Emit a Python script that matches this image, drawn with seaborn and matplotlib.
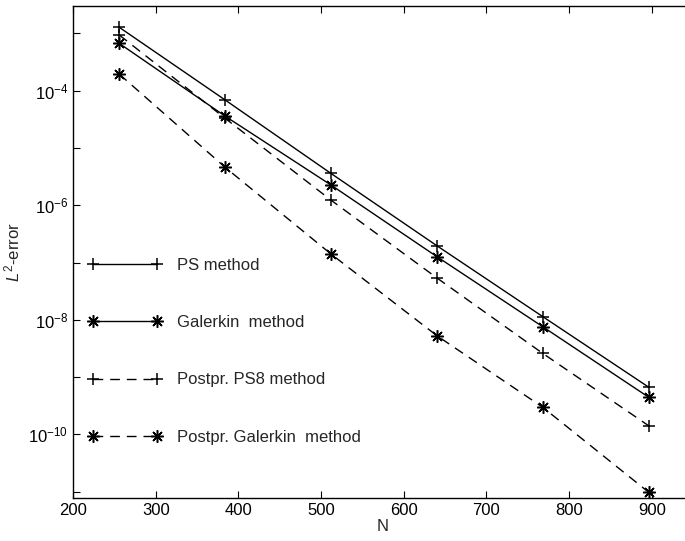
import matplotlib
matplotlib.use('Agg')
import matplotlib.pyplot as plt
import matplotlib.ticker as mticker
import numpy as np
import seaborn as sns

# data
N = [256, 384, 512, 640, 768, 896]
ps_err = [1.28e-3, 6.9e-5, 3.6e-6, 1.97e-7, 1.14e-8, 6.7e-10]
galerkin_err = [6.7e-4, 3.6e-5, 2.26e-6, 1.27e-7, 7.6e-9, 4.47e-10]
postpr_ps8_err = [9.4e-4, 3.3e-5, 1.23e-6, 5.4e-8, 2.6e-9, 1.42e-10]
postpr_galerkin_err = [1.95e-4, 4.6e-6, 1.41e-7, 5.3e-9, 2.98e-10, 9.8e-12]

labels = ['PS method', 'Galerkin  method', 'Postpr. PS8 method',
          'Postpr. Galerkin  method']
ytick_exp = [-11, -10, -9, -8, -7, -6, -5, -4, -3]

sns.set_style('ticks')
plt.rcParams['font.family'] = ['Liberation Sans', 'DejaVu Sans']
plt.rcParams['mathtext.fontset'] = 'custom'
plt.rcParams['mathtext.rm'] = 'Liberation Sans'
plt.rcParams['mathtext.it'] = 'Liberation Sans:italic'

fig = plt.figure(figsize=(6.85, 5.41), dpi=100)
# right spine sits just past the right edge, as in the scan
right_px = 693
ax = fig.add_axes([73 / 685, 1 - 498 / 541, (right_px - 73) / 685, 492 / 541])

series = [ps_err, galerkin_err, postpr_ps8_err, postpr_galerkin_err]
styles = [('-', '+'), ('-', (8, 2, 0)), ('--', '+'), ('--', (8, 2, 0))]

for vals, lab, (ls, mk) in zip(series, labels, styles):
    sns.lineplot(x=N, y=vals, ax=ax, color='black', linewidth=1.0,
                 marker=mk, markersize=9, markeredgewidth=1.1,
                 markeredgecolor='black', label=lab)
    l = ax.get_lines()[-1]
    if ls == '--':
        l.set_dashes((7, 5))

ax.set_yscale('log')
ax.set_xlim(200, 200 + (right_px - 73) / 82.7 * 100)
ax.set_ylim(10 ** -11.11, 10 ** -2.52)

ax.xaxis.set_major_locator(mticker.FixedLocator([200, 300, 400, 500, 600, 700, 800, 900]))
ax.yaxis.set_major_locator(mticker.FixedLocator([10.0 ** e for e in ytick_exp]))
ax.yaxis.set_minor_locator(mticker.NullLocator())


def fmt(v, pos):
    e = int(round(np.log10(v)))
    if e % 2 == 0:
        return r'$10^{%d}$' % e
    return ''


ax.yaxis.set_major_formatter(mticker.FuncFormatter(fmt))
ax.tick_params(direction='in', top=True, right=True, length=5,
               labelsize=12, width=0.8, colors='black')
for s in ax.spines.values():
    s.set_linewidth(1.0)
    s.set_color('black')

ax.set_xlabel('N', fontsize=12, labelpad=1)
ax.set_ylabel(r'$L^2$-error', fontsize=12, labelpad=4)

leg = ax.legend(loc='upper left', bbox_to_anchor=(0.006, 0.512),
                frameon=False, fontsize=12, handlelength=4.44, numpoints=2,
                handletextpad=0.9, labelspacing=2.54, borderaxespad=0.3)

fig.savefig('out.png', dpi=100)
